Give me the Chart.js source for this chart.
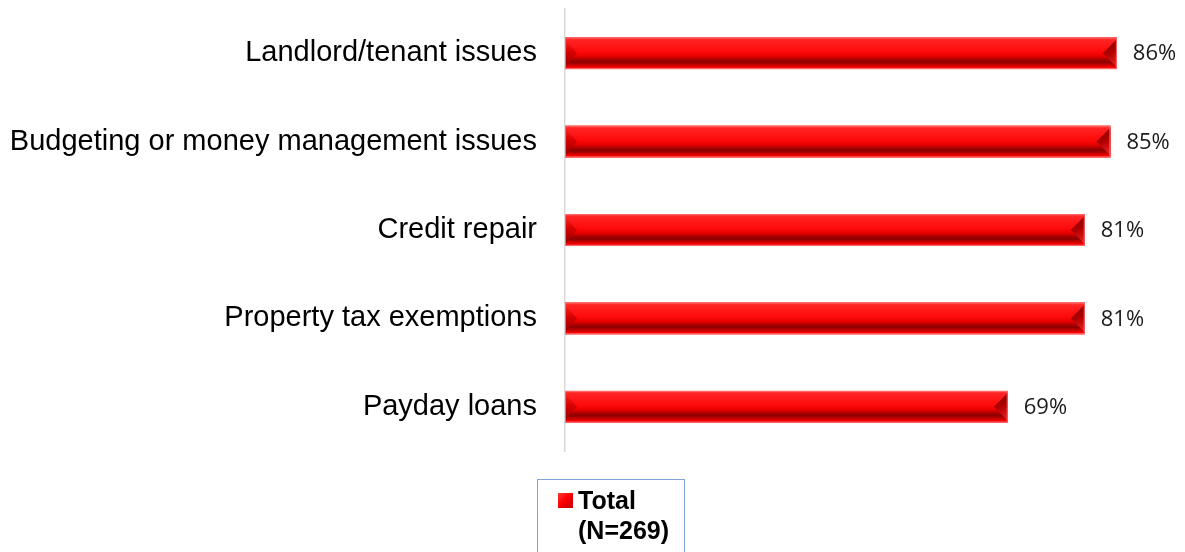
<!DOCTYPE html>
<html>
<head>
<meta charset="utf-8">
<script src="https://cdn.jsdelivr.net/npm/chart.js@4.4.1/dist/chart.umd.min.js"></script>
<style>
  body { margin: 0; background: #fff; }
  #wrap { position: relative; width: 1185px; height: 552px; }
  #legend {
    position: absolute; left: 537px; top: 479px; width: 148px; height: 90px;
    border: 1.5px solid #7ea6d8; box-sizing: border-box;
    font: bold 25px "Liberation Sans", Arial, sans-serif; color: #000;
  }
  #legend .swatch {
    position: absolute; left: 20px; top: 13px; width: 15px; height: 15px;
    background: linear-gradient(135deg, #ff3a3a 0%, #ff0000 45%, #c00000 100%);
  }
  #legend .txt { position: absolute; left: 40px; top: 5px; line-height: 30px; }
</style>
</head>
<body>
<div id="wrap">
  <canvas id="chart" width="1185" height="552"></canvas>
  <div id="legend"></div>
</div>
<script>
var categories = [
  'Landlord/tenant issues',
  'Budgeting or money management issues',
  'Credit repair',
  'Property tax exemptions',
  'Payday loans'
];
var totals = [86, 85, 81, 81, 69];
var seriesLabel = ['Total', '(N=269)'];

// bevelled red fill painted over each bar
var bevelBars = {
  id: 'bevelBars',
  afterDatasetsDraw: function(chart) {
    var ctx = chart.ctx;
    var meta = chart.getDatasetMeta(0);
    meta.data.forEach(function(bar, i) {
      var p = bar.getProps(['x', 'y', 'base', 'height'], true);
      var top = p.y - p.height / 2, bottom = p.y + p.height / 2;
      var left = p.base, right = p.x;
      ctx.save();
      var g = ctx.createLinearGradient(0, top, 0, bottom);
      g.addColorStop(0, '#ff5050');
      g.addColorStop(0.08, '#ff2424');
      g.addColorStop(0.45, '#ff0a0a');
      g.addColorStop(0.6, '#e60000');
      g.addColorStop(0.7, '#a80000');
      g.addColorStop(0.78, '#8c0000');
      g.addColorStop(0.87, '#c80000');
      g.addColorStop(0.94, '#f20000');
      g.addColorStop(1, '#ff4a4a');
      ctx.fillStyle = g;
      ctx.fillRect(left, top, right - left, bottom - top);

      // left end bevel
      var b = 12;
      var lg = ctx.createLinearGradient(0, top, 0, bottom);
      lg.addColorStop(0, '#ff3030');
      lg.addColorStop(0.45, '#d80000');
      lg.addColorStop(1, '#8a0000');
      ctx.fillStyle = lg;
      ctx.beginPath();
      ctx.moveTo(left, top + 2);
      ctx.lineTo(left + b, top + p.height * 0.5);
      ctx.lineTo(left, bottom - 2);
      ctx.closePath();
      ctx.fill();

      // right end bevel
      var rg = ctx.createLinearGradient(right - 14, top, right, bottom);
      rg.addColorStop(0, '#7a0000');
      rg.addColorStop(0.5, '#b00000');
      rg.addColorStop(1, '#ff2a2a');
      ctx.fillStyle = rg;
      ctx.beginPath();
      ctx.moveTo(right, top + 2);
      ctx.lineTo(right - 14, top + p.height * 0.5);
      ctx.lineTo(right, bottom - 2);
      ctx.closePath();
      ctx.fill();

      ctx.strokeStyle = '#ff6a6a';
      ctx.lineWidth = 1;
      ctx.strokeRect(left + 0.5, top + 0.5, right - left - 1, bottom - top - 1);

      // value label
      ctx.fillStyle = '#1a1a1a';
      ctx.font = '22px "Open Sans", sans-serif';
      ctx.textBaseline = 'middle';
      ctx.textAlign = 'left';
      ctx.fillText(totals[i] + '%', right + 16, p.y + 1);
      ctx.restore();
    });
  }
};

var chart = new Chart(document.getElementById('chart'), {
  type: 'bar',
  data: {
    labels: categories,
    datasets: [{
      label: seriesLabel.join(' '),
      data: totals,
      backgroundColor: '#ff0000',
      borderWidth: 0,
      categoryPercentage: 1,
      barPercentage: 0.36
    }]
  },
  options: {
    indexAxis: 'y',
    responsive: false,
    animation: false,
    layout: { padding: { left: 0, right: 4, top: 9, bottom: 101 } },
    plugins: {
      legend: { display: false },
      tooltip: { enabled: false }
    },
    scales: {
      x: { display: false, min: 0, max: 96 },
      y: {
        afterFit: function(scale) {
          scale.width = 565;
          scale.paddingTop = 0;
          scale.paddingBottom = 0;
        },
        grid: { display: false, drawTicks: false },
        border: { display: true, color: '#d9d9d9', width: 1.5 },
        ticks: {
          padding: 28,
          color: '#000',
          font: { family: '"Liberation Sans", Arial, sans-serif', size: 29 }
        }
      }
    }
  },
  plugins: [bevelBars]
});

// legend box under the plot
var legend = document.getElementById('legend');
legend.innerHTML = '<span class="swatch"></span><div class="txt">' +
  seriesLabel.join('<br>') + '</div>';
</script>
</body>
</html>
